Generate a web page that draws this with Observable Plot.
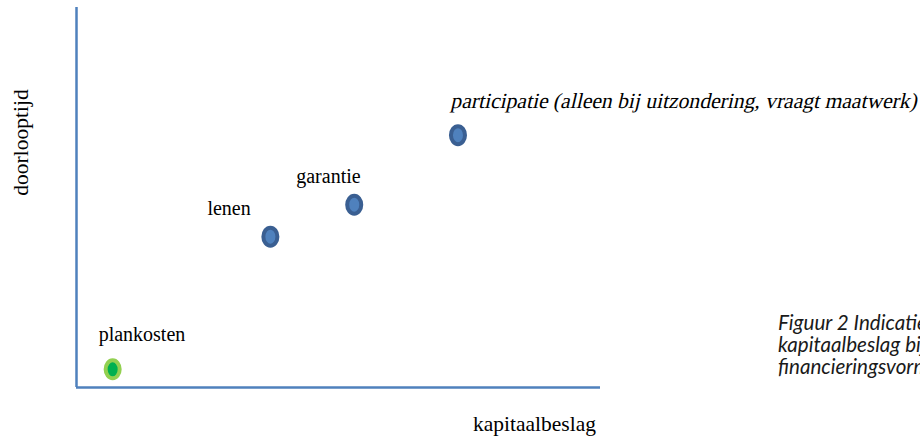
<!DOCTYPE html>
<html>
<head>
<meta charset="utf-8">
<script src="https://cdn.jsdelivr.net/npm/d3@7"></script>
<script src="https://cdn.jsdelivr.net/npm/@observablehq/plot@0.6"></script>
<style>
  html, body { margin: 0; padding: 0; background: #fff; overflow: hidden; width: 920px; height: 437px; }
  #wrap { position: relative; width: 920px; height: 437px; overflow: hidden; }
  #caption { position: absolute; left: 778px; top: 311px; font-family: Lato, "Open Sans", sans-serif; font-style: italic; font-size: 20.6px; line-height: 22px; color: #1a1a1a; white-space: nowrap; }
  .skew { transform-box: fill-box; transform-origin: center; transform: skewX(-13deg); }
</style>
</head>
<body>
<div id="wrap"><div id="chart"></div><div id="caption"></div></div>
<script>
// Data
const names = ["plankosten", "lenen", "garantie", "participatie (alleen bij uitzondering, vraagt maatwerk)"];
const kapitaalbeslag = [6.9, 37.0, 53.0, 72.8];
const doorlooptijd = [4.8, 39.7, 48.1, 66.4];
const kinds = ["groen", "blauw", "blauw", "blauw"];
const italic = [false, false, false, true];
const xTitle = "kapitaalbeslag";
const yTitle = "doorlooptijd";
const captionLines = ["Figuur 2 Indicatie doorlooptijd en", "kapitaalbeslag bij verschillende", "financieringsvormen"];

// styling: label offsets relative to each point (px)
const labelDx = [-14, -63, -58, -6];
const labelDy = [-35, -28, -28, -34];

const data = names.map((n, i) => ({name: n, x: kapitaalbeslag[i], y: doorlooptijd[i], kind: kinds[i], italic: italic[i], i}));

const outer = {groen: "#92d050", blauw: "#3a5f92"};
const inner = {groen: "#00b050", blauw: "#4f81bd"};

// ellipse symbol
const ellipse = {
  draw(context, size) {
    const ry = Math.sqrt(size / Math.PI);
    const rx = ry * 0.78;
    const k = 0.5523;
    context.moveTo(rx, 0);
    context.bezierCurveTo(rx, ry * k, rx * k, ry, 0, ry);
    context.bezierCurveTo(-rx * k, ry, -rx, ry * k, -rx, 0);
    context.bezierCurveTo(-rx, -ry * k, -rx * k, -ry, 0, -ry);
    context.bezierCurveTo(rx * k, -ry, rx, -ry * k, rx, 0);
    context.closePath();
  }
};

const serif = "Liberation Serif, Times New Roman, serif";

const labelMarks = data.map((d, i) => Plot.text([d], {
  x: "x", y: "y", text: "name",
  dx: labelDx[i], dy: labelDy[i],
  textAnchor: "start",
  fontSize: d.italic ? 21.6 : 20,
  fontFamily: serif,
  className: d.italic ? "lbl-italic" : "lbl",
  fill: "#000"
}));

const chart = Plot.plot({
  width: 920,
  height: 437,
  marginLeft: 76,
  marginRight: 320,
  marginTop: 7,
  marginBottom: 50,
  x: {domain: [0, 100], axis: null},
  y: {domain: [0, 100], axis: null},
  style: {background: "white", fontFamily: serif},
  marks: [
    Plot.ruleX([0], {stroke: "#4f81bd", strokeWidth: 2.5}),
    Plot.ruleY([0], {stroke: "#4f81bd", strokeWidth: 2.5}),
    Plot.dot(data, {x: "x", y: "y", symbol: ellipse, r: 9, fill: d => inner[d.kind], stroke: d => outer[d.kind], strokeWidth: 4}),
    ...labelMarks,
    Plot.text([xTitle], {frameAnchor: "bottom", text: d => d, textAnchor: "middle", lineAnchor: "middle", dx: 196, dy: 37, fontSize: 21.5, fontFamily: serif, fill: "#000"}),
    Plot.text([yTitle], {frameAnchor: "left", text: d => d, textAnchor: "middle", lineAnchor: "middle", dx: -55, dy: -55, rotate: -90, fontSize: 21.5, fontFamily: serif, fill: "#000"})
  ]
});
document.getElementById("chart").appendChild(chart);
document.getElementById("caption").innerHTML = captionLines.join("<br>");

// fake italic (serif italic face may be unavailable): skew the label's group
chart.querySelectorAll(".lbl-italic text").forEach(t => {
  const g = document.createElementNS("http://www.w3.org/2000/svg", "g");
  g.setAttribute("class", "skew");
  t.parentNode.insertBefore(g, t);
  g.appendChild(t);
});
</script>
</body>
</html>
